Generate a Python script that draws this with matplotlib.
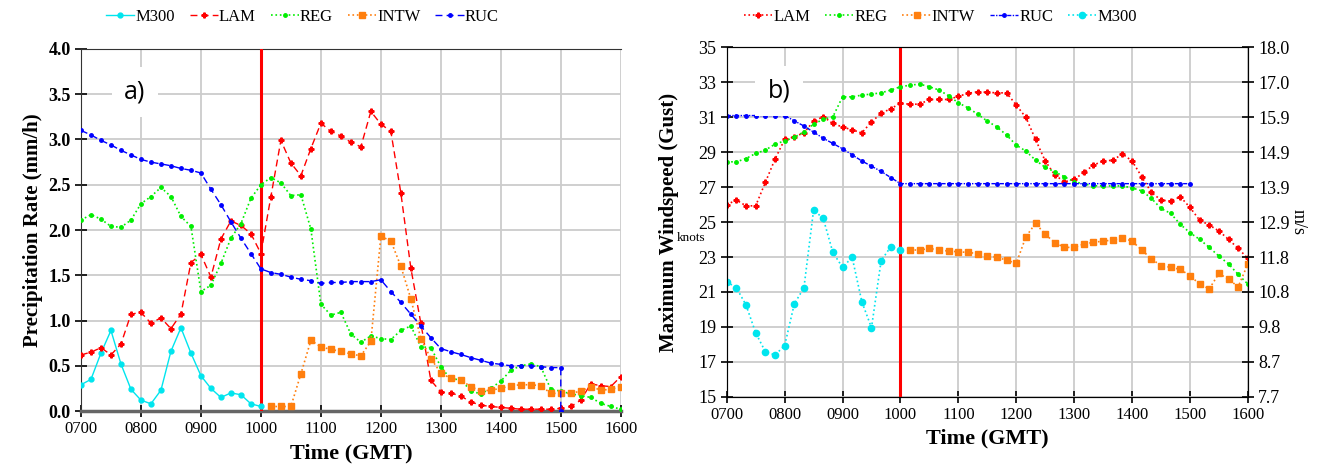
import numpy as np
import matplotlib
matplotlib.use("Agg")
import matplotlib.pyplot as plt

plt.rcParams["font.family"] = ["Liberation Serif", "DejaVu Serif"]

# time axis: hours, every 10 min from 07:00 to 16:00
times = [7 + k / 6 for k in range(55)]
hour_ticks = list(range(7, 17))
hour_labels = ["0700", "0800", "0900", "1000", "1100", "1200", "1300", "1400", "1500", "1600"]

# ---- panel a) precipitation rate (mm/h)
a_m300 = [0.29, 0.35, 0.64, 0.89, 0.52, 0.24, 0.12, 0.08, 0.23, 0.66, 0.92, 0.64, 0.39, 0.25,
          0.15, 0.20, 0.18, 0.08, 0.05]
a_lam = [0.62, 0.65, 0.70, 0.62, 0.74, 1.07, 1.09, 0.97, 1.03, 0.91, 1.07, 1.64, 1.73, 1.48,
         1.90, 2.10, 2.05, 1.96, 1.74, 2.37, 2.99, 2.74, 2.60, 2.90, 3.18, 3.09, 3.04, 2.97,
         2.92, 3.31, 3.17, 3.09, 2.41, 1.58, 0.97, 0.34, 0.21, 0.20, 0.165, 0.10, 0.065, 0.05,
         0.04, 0.03, 0.02, 0.02, 0.02, 0.02, 0.03, 0.05, 0.12, 0.30, 0.28, 0.27, 0.38]
a_reg = [2.11, 2.17, 2.12, 2.04, 2.03, 2.11, 2.29, 2.37, 2.47, 2.37, 2.15, 2.04, 1.32, 1.39,
         1.63, 1.91, 2.07, 2.35, 2.50, 2.58, 2.52, 2.38, 2.39, 2.01, 1.18, 1.06, 1.09, 0.85,
         0.76, 0.83, 0.80, 0.79, 0.89, 0.94, 0.71, 0.70, 0.49, 0.35, 0.35, 0.22, 0.19, 0.25,
         0.33, 0.45, 0.50, 0.52, 0.49, 0.24, 0.22, 0.19, 0.17, 0.15, 0.085, 0.05, 0.02]
a_intw = [0.05, 0.05, 0.05, 0.41, 0.78, 0.71, 0.68, 0.66, 0.63, 0.61, 0.77, 1.93, 1.88, 1.60,
          1.24, 0.80, 0.58, 0.42, 0.36, 0.34, 0.27, 0.22, 0.23, 0.25, 0.28, 0.29, 0.29, 0.28,
          0.195, 0.195, 0.195, 0.22, 0.27, 0.23, 0.24, 0.27]
a_ruc = [3.10, 3.05, 2.99, 2.94, 2.88, 2.83, 2.78, 2.75, 2.73, 2.71, 2.68, 2.66, 2.63, 2.45,
         2.28, 2.09, 1.91, 1.74, 1.57, 1.53, 1.51, 1.48, 1.455, 1.44, 1.41, 1.42, 1.42, 1.43,
         1.43, 1.43, 1.45, 1.32, 1.20, 1.07, 0.94, 0.81, 0.69, 0.655, 0.625, 0.59, 0.56, 0.53,
         0.515, 0.50, 0.50, 0.50, 0.49, 0.48, 0.48, 0.0]
a_ruc_times = times[:49] + [15.0]

# ---- panel b) maximum windspeed (knots)
b_lam = [26.0, 26.26, 25.93, 25.93, 27.27, 28.6, 29.73, 29.88, 30.11, 30.78, 31.03, 30.65,
         30.44, 30.28, 30.11, 30.74, 31.22, 31.5, 31.79, 31.75, 31.75, 32.02, 32.02, 32.02,
         32.2, 32.37, 32.46, 32.43, 32.4, 32.4, 31.7, 30.99, 29.73, 28.5, 27.69, 27.31, 27.44,
         27.84, 28.26, 28.5, 28.54, 28.9, 28.5, 27.6, 26.7, 26.26, 26.2, 26.45, 25.84, 25.11,
         24.83, 24.49, 24.01, 23.49, 22.92]
b_reg = [28.45, 28.45, 28.64, 28.93, 29.12, 29.46, 29.65, 29.85, 30.17, 30.61, 30.88, 31.03,
         32.17, 32.17, 32.27, 32.33, 32.4, 32.56, 32.75, 32.84, 32.9, 32.75, 32.56, 32.23,
         31.83, 31.54, 31.18, 30.78, 30.45, 29.98, 29.41, 29.06, 28.55, 28.13, 27.88, 27.59,
         27.31, 27.18, 27.08, 27.07, 27.07, 27.07, 26.96, 26.79, 26.36, 25.78, 25.5, 24.87,
         24.39, 24.01, 23.55, 23.05, 22.6, 22.0, 21.45]
b_intw = [23.4, 23.4, 23.49, 23.4, 23.34, 23.3, 23.26, 23.2, 23.07, 22.98, 22.82, 22.63, 24.16,
          24.93, 24.3, 23.82, 23.55, 23.55, 23.74, 23.84, 23.91, 23.97, 24.1, 23.91, 23.4, 22.9,
          22.5, 22.41, 22.29, 21.93, 21.45, 21.17, 22.06, 21.72, 21.3, 22.6]
b_ruc = [31.1] * 7 + [30.8, 30.5, 30.15, 29.8, 29.5, 29.2, 28.85, 28.5, 28.2, 27.9, 27.55,
                      27.2] + [27.2] * 30
b_m300 = [21.58, 21.24, 20.25, 18.66, 17.58, 17.39, 17.92, 20.31, 21.24, 25.69, 25.21, 23.26,
          22.41, 22.98, 20.44, 18.95, 22.79, 23.59, 23.4]
kt_ticks = [15, 17, 19, 21, 23, 25, 27, 29, 31, 33, 35]

C_M300 = "#00e5ee"
C_LAM = "#ff0000"
C_REG = "#00ee00"
C_INTW = "#ff7f0e"
C_RUC = "#0000ff"

fig = plt.figure(figsize=(13.23, 4.72), dpi=100)
ax1 = fig.add_axes([0.0612, 0.1292, 0.408, 0.767])
ax2 = fig.add_axes([0.5493, 0.1595, 0.3939, 0.740])


def style_axes(ax):
    ax.set_xlim(7, 16)
    ax.set_xticks(hour_ticks)
    ax.set_xticklabels(hour_labels)
    ax.grid(True, color="#cccccc", linewidth=1.3)
    ax.set_axisbelow(True)
    ax.axvline(10, color="red", linewidth=2.2, zorder=3)
    ax.tick_params(axis="both", direction="inout", length=8, width=1.2, labelsize=12)
    for s in ax.spines.values():
        s.set_color("#333333")
    ax.set_xlabel("Time (GMT)", fontsize=16, fontweight="bold")


legend_kw = dict(loc="center", ncol=5, frameon=False, fontsize=12, handlelength=1.7,
                 handletextpad=0.05, columnspacing=0.9, borderaxespad=0)

# panel a
ax1.plot(times[:19], a_m300, color=C_M300, ls="-", lw=1, marker="o", ms=3.5, label="M300", zorder=4)
ax1.plot(times, a_lam, color=C_LAM, ls=(0, (5, 3)), lw=1, marker="P", ms=3.5, label="LAM", zorder=4)
ax1.plot(times, a_reg, color=C_REG, ls=":", lw=1.2, marker="o", ms=2.5, label="REG", zorder=4)
ax1.plot(times[19:], a_intw, color=C_INTW, ls=":", lw=1.2, marker="s", ms=4.5, label="INTW", zorder=4)
ax1.plot(a_ruc_times, a_ruc, color=C_RUC, ls=(0, (5, 3)), lw=1, marker="o", ms=2.5, label="RUC", zorder=4)
style_axes(ax1)
ax1.set_ylim(0, 4.0)
ax1.set_yticks(np.arange(0, 4.01, 0.5))
ax1.set_yticklabels([f"{v:.1f}" for v in np.arange(0, 4.01, 0.5)], fontweight="bold", fontsize=13)
ax1.spines["bottom"].set_color("#666666")
ax1.spines["bottom"].set_linewidth(2.5)
ax1.spines["right"].set_visible(False)
ax1.set_ylabel("Precipitation Rate (mm/h)", fontsize=15, fontweight="bold")
ax1.text(0.1, 0.88, "a)", transform=ax1.transAxes, fontsize=18, family="Open Sans",
         va="center", ha="center", zorder=6,
         bbox=dict(facecolor="white", edgecolor="none", boxstyle="square,pad=0.5"))
ax1.legend(bbox_to_anchor=(0.41, 1.088), **legend_kw)

# panel b
ax2.plot(times, b_lam, color=C_LAM, ls=":", lw=1.2, marker="P", ms=3.5, label="LAM", zorder=4)
ax2.plot(times, b_reg, color=C_REG, ls=":", lw=1.2, marker="o", ms=2.5, label="REG", zorder=4)
ax2.plot(times[19:], b_intw, color=C_INTW, ls=":", lw=1.2, marker="s", ms=4.5, label="INTW", zorder=4)
ax2.plot(times[:49], b_ruc, color=C_RUC, ls=(0, (3, 1, 1, 1)), lw=1, marker="o", ms=2.5, label="RUC", zorder=4)
ax2.plot(times[:19], b_m300, color=C_M300, ls=":", lw=1.2, marker="o", ms=4.5, label="M300", zorder=4)
style_axes(ax2)
ax2.set_ylim(15, 35)
ax2.set_yticks(kt_ticks)
ax2.set_yticklabels([str(v) for v in kt_ticks], fontsize=13)
ax2.set_ylabel("Maximum Windspeed (Gust)", fontsize=15, fontweight="bold", labelpad=14)
ax2.text(-0.069, 0.455, "knots", transform=ax2.transAxes, fontsize=9.5, ha="center", va="center")
ax2.legend(bbox_to_anchor=(0.41, 1.087), **legend_kw)
ax2.text(0.1, 0.875, "b)", transform=ax2.transAxes, fontsize=18, family="Open Sans",
         va="center", ha="center", zorder=6,
         bbox=dict(facecolor="white", edgecolor="none", boxstyle="square,pad=0.5"))

ax3 = ax2.twinx()
ax3.set_ylim(15, 35)
ax3.set_yticks(kt_ticks)
ax3.set_yticklabels([f"{v * 0.5144:.1f}" for v in kt_ticks], fontsize=13)
ax3.tick_params(axis="y", direction="inout", length=8, width=1.2)
ax3.set_ylabel("m/s", fontsize=13, rotation=270, labelpad=12)

fig.savefig("out.png", dpi=100)
